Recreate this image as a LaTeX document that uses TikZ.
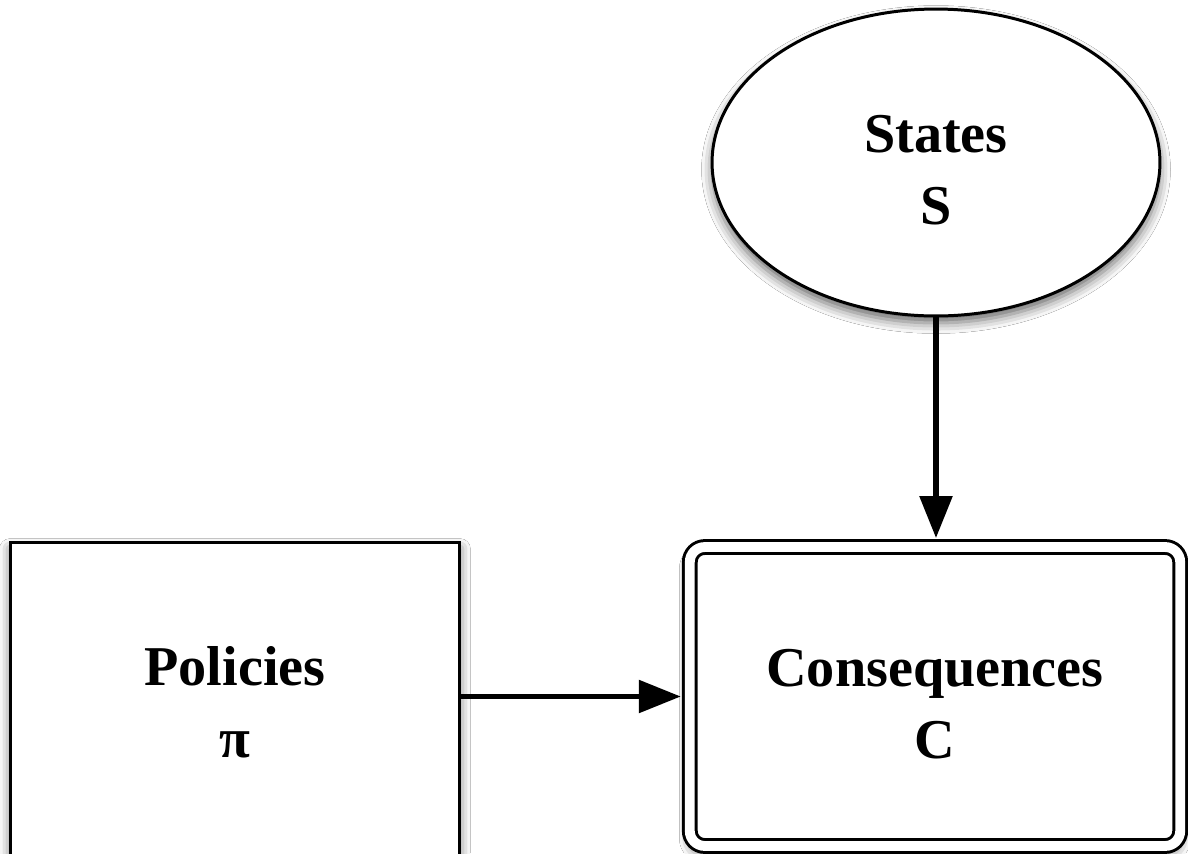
\documentclass[tikz,border=0pt]{standalone}
\usepackage{fontspec}
\setmainfont{Liberation Serif}
\usepackage{tikz}
\usetikzlibrary{shapes.geometric, arrows.meta, positioning, shadows.blur}
\newcommand{\lift}{\rule{0pt}{30pt}}
\tikzstyle{box} = [rectangle, draw=black, line width=1.7pt, fill=white, align=center, font=\bfseries\fontsize{32}{41}\selectfont, blur shadow={shadow xshift=0pt, shadow yshift=-4pt, shadow blur radius=6pt, shadow opacity=60}]
\tikzstyle{arrow} = [line width=3.2pt, -{Triangle[length=0.84cm, width=0.64cm]}]

\begin{document}
\begin{tikzpicture}[x=0.02cm, y=-0.02cm]
    \clip (0,0) rectangle (1188,853);
    \fill[white] (0,0) rectangle (1188,853);

    % States
    \node[box, ellipse, minimum width=8.96cm, minimum height=6.14cm] (states) at (936,162.5) {\lift States\\S};

    % Policies
    \node[box, minimum width=9cm, minimum height=6.4cm] (policies) at (235,702) {Policies\\π};

    % Consequences (double border)
    \node[box, rounded corners=0.3cm, double=white, double distance=5.6pt, minimum width=9.81cm, minimum height=5.98cm] (cons) at (935,696.5) {\lift Consequences\\C};

    % Arrows
    \draw[arrow, shorten >=0.15cm] (policies.east |- cons.west) -- (cons.west);
    \draw[arrow, shorten >=0.15cm] (states.south) -- (states.south |- cons.north);
\end{tikzpicture}
\end{document}
